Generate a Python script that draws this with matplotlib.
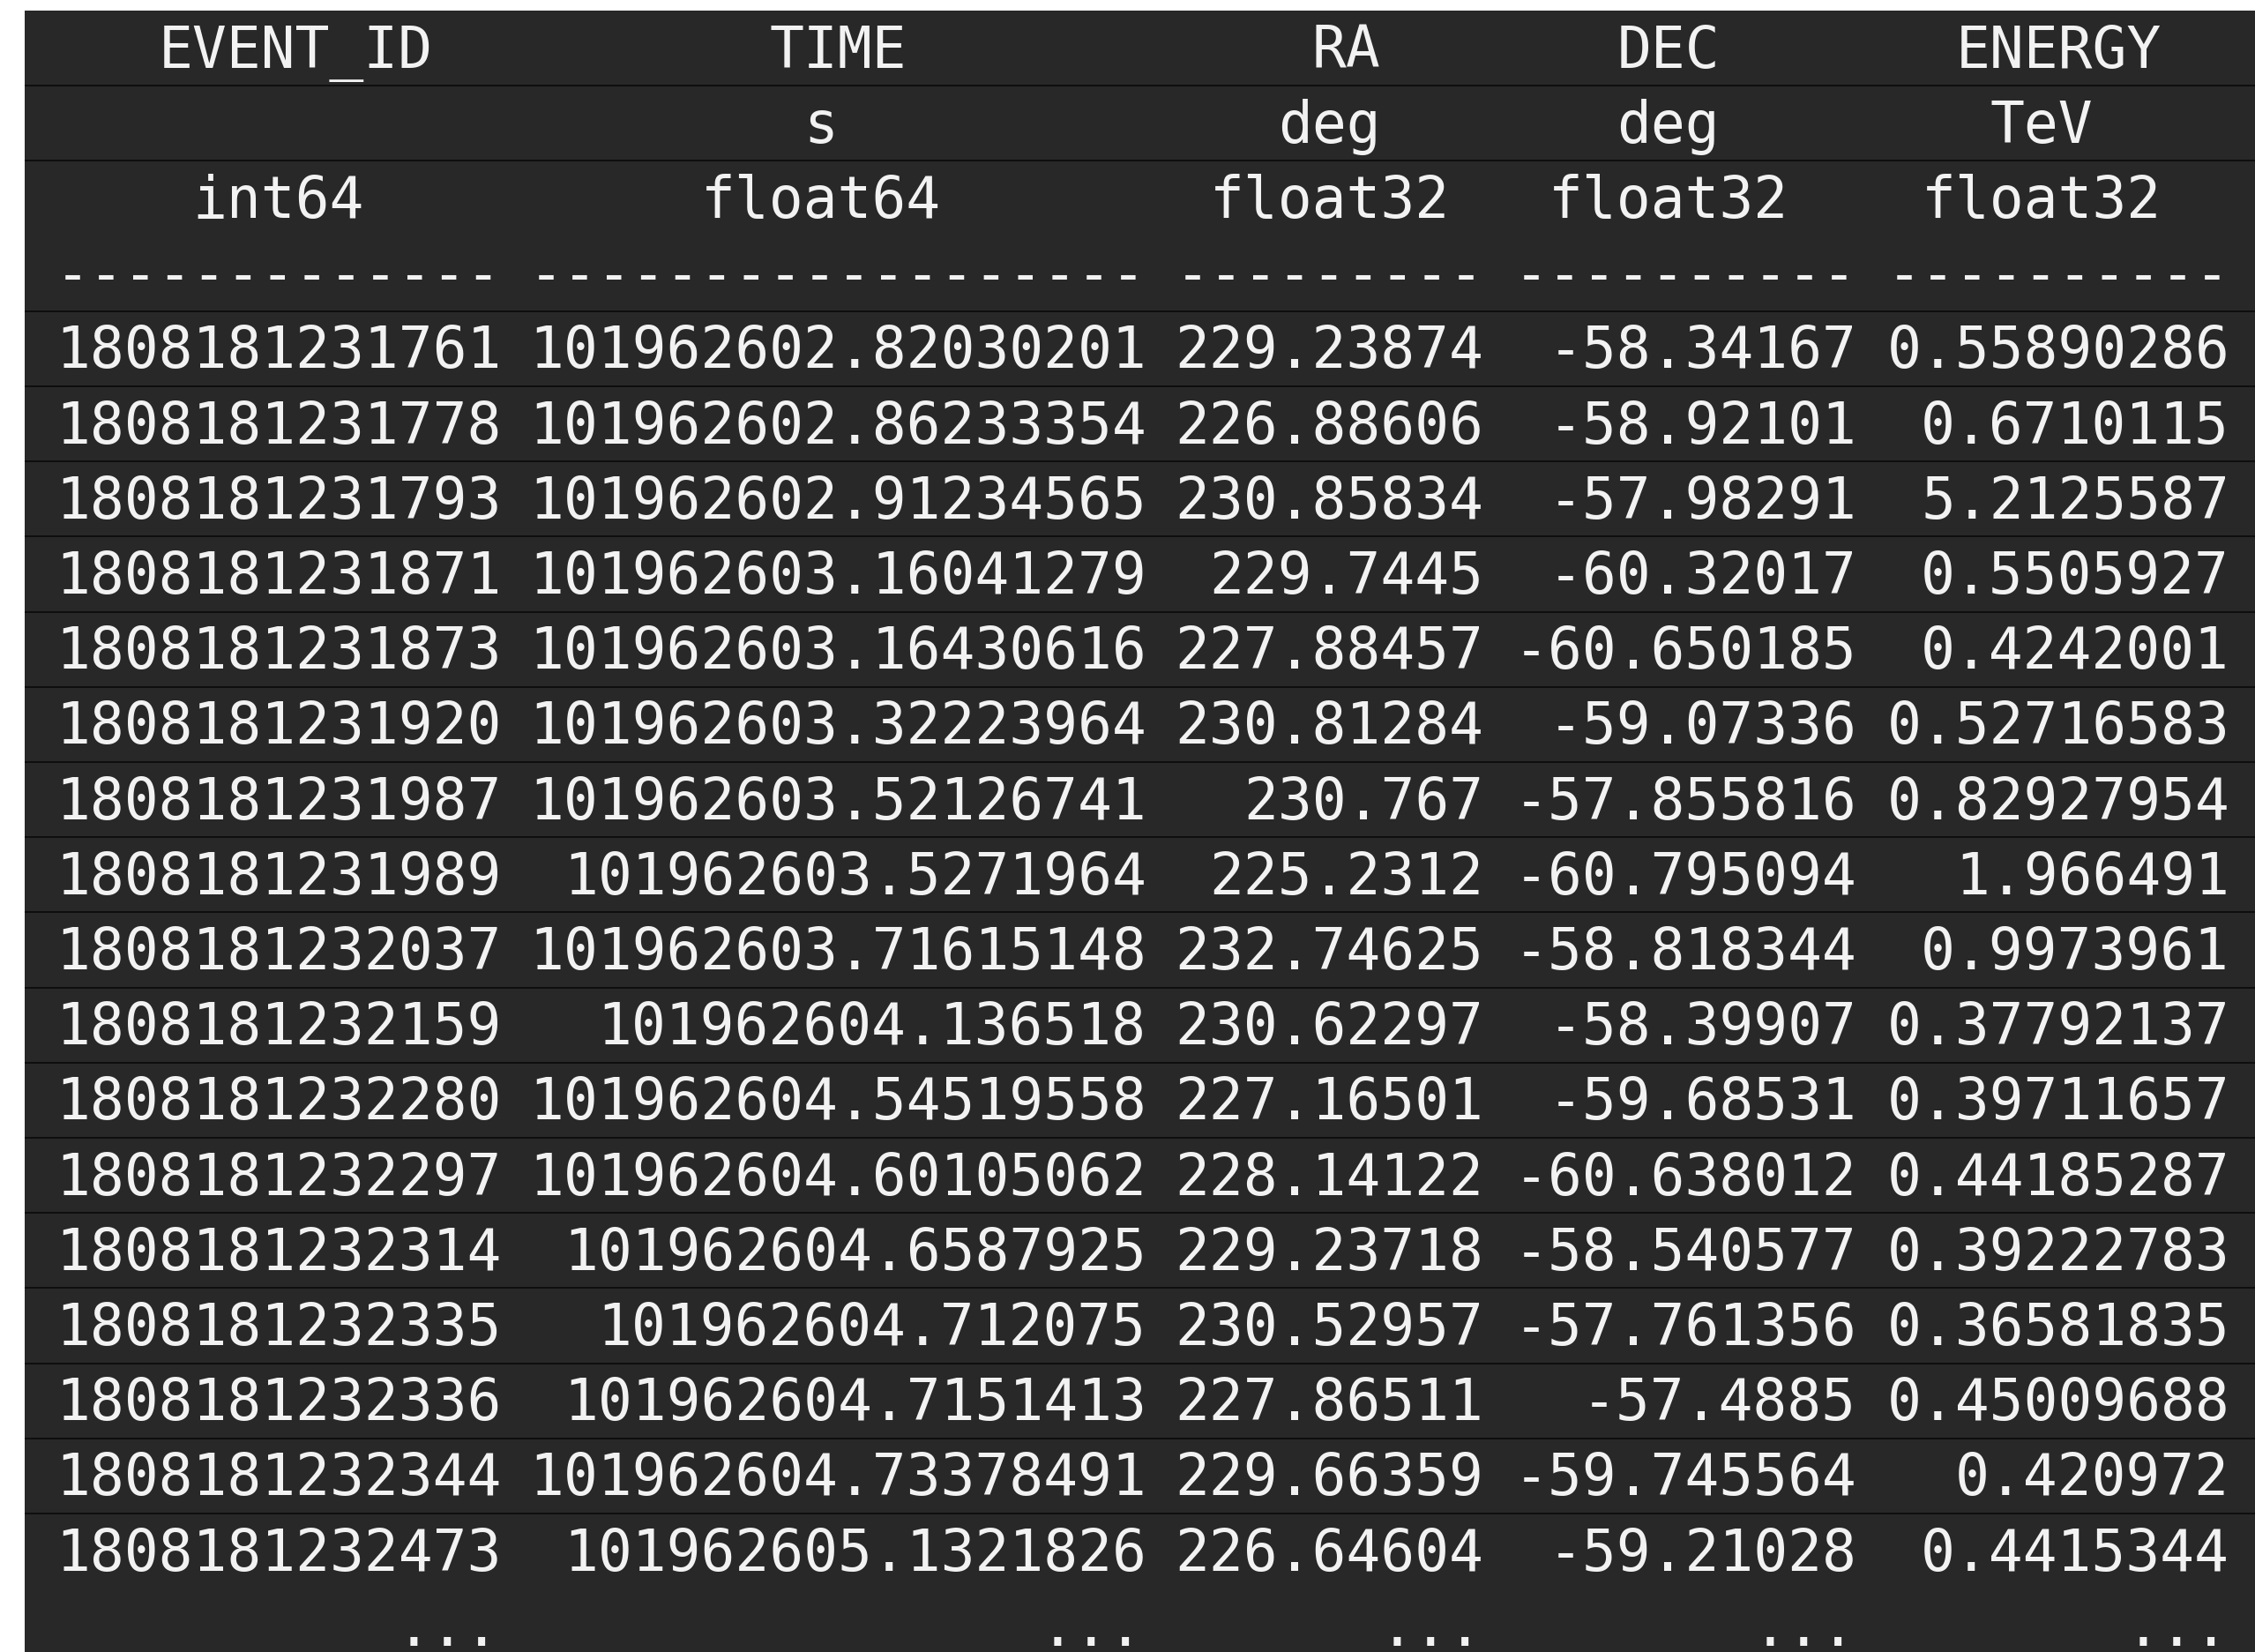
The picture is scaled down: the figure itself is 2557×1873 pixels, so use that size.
import matplotlib
matplotlib.use("Agg")
import matplotlib.pyplot as plt
from matplotlib.patches import Rectangle

# ---- table content ----
col_names = ["EVENT_ID", "TIME", "RA", "DEC", "ENERGY"]
col_units = ["", "s", "deg", "deg", "TeV"]
col_dtypes = ["int64", "float64", "float32", "float32", "float32"]

event_id = ["1808181231761", "1808181231778", "1808181231793", "1808181231871",
            "1808181231873", "1808181231920", "1808181231987", "1808181231989",
            "1808181232037", "1808181232159", "1808181232280", "1808181232297",
            "1808181232314", "1808181232335", "1808181232336", "1808181232344",
            "1808181232473"]
time_s = ["101962602.82030201", "101962602.86233354", "101962602.91234565",
          "101962603.16041279", "101962603.16430616", "101962603.32223964",
          "101962603.52126741", "101962603.5271964", "101962603.71615148",
          "101962604.136518", "101962604.54519558", "101962604.60105062",
          "101962604.6587925", "101962604.712075", "101962604.7151413",
          "101962604.73378491", "101962605.1321826"]
ra_deg = ["229.23874", "226.88606", "230.85834", "229.7445", "227.88457",
          "230.81284", "230.767", "225.2312", "232.74625", "230.62297",
          "227.16501", "228.14122", "229.23718", "230.52957", "227.86511",
          "229.66359", "226.64604"]
dec_deg = ["-58.34167", "-58.92101", "-57.98291", "-60.32017", "-60.650185",
           "-59.07336", "-57.855816", "-60.795094", "-58.818344", "-58.39907",
           "-59.68531", "-60.638012", "-58.540577", "-57.761356", "-57.4885",
           "-59.745564", "-59.21028"]
energy_tev = ["0.55890286", "0.6710115", "5.2125587", "0.5505927", "0.4242001",
              "0.52716583", "0.82927954", "1.966491", "0.9973961", "0.37792137",
              "0.39711657", "0.44185287", "0.39222783", "0.36581835", "0.45009688",
              "0.420972", "0.4415344"]
columns = [event_id, time_s, ra_deg, dec_deg, energy_tev]

# ---- layout (pixels) ----
W, H = 2557, 1874
DPI = 100
BG = "#282828"
FG = "#f2f2f2"
LINE = "#0c0c0c"
box_left, box_top = 28, 13
row_h = 85.2
x0 = 66.0        # left edge of character cell 0
adv = 38.44      # character advance
fs = 46.5        # font size in points
base_off = 21.5  # baseline distance above row bottom

fig = plt.figure(figsize=(W / DPI, H / DPI), dpi=DPI, facecolor="white")
ax = fig.add_axes([0, 0, 1, 1])
ax.set_xlim(0, W)
ax.set_ylim(H, 0)
ax.axis("off")

ax.add_patch(Rectangle((box_left, box_top), W - box_left, H - box_top,
                       facecolor=BG, edgecolor="none", zorder=0))

# column widths in characters and start indices
widths = []
for name, unit, dt, vals in zip(col_names, col_units, col_dtypes, columns):
    widths.append(max([len(name), len(unit), len(dt)] + [len(v) for v in vals]))
starts = []
pos = 0
for w in widths:
    starts.append(pos)
    pos += w + 1


def baseline(row):
    return box_top + row_h * (row + 1) - base_off


def put(row, col, s, just):
    w = widths[col]
    if just == "center":
        padded = s.center(w)
    else:
        padded = s.rjust(w)
    lead = len(padded) - len(padded.lstrip(" "))
    n = len(s)
    if n == 0:
        return
    xc = x0 + adv * (starts[col] + lead + n / 2.0)
    ax.text(xc, baseline(row), s, ha="center", va="baseline", color=FG,
            fontsize=fs, family="DejaVu Sans Mono", zorder=3)


n_data = len(event_id)
for c in range(len(col_names)):
    put(0, c, col_names[c], "center")
    put(1, c, col_units[c], "center")
    put(2, c, col_dtypes[c], "center")
    put(3, c, "-" * widths[c], "right")
    for r in range(n_data):
        put(4 + r, c, columns[c][r], "right")
    put(4 + n_data, c, "...", "right")

# horizontal separators
sep_rows = [1, 2] + list(range(4, 4 + n_data))
for k in sep_rows:
    y = box_top + row_h * k
    ax.plot([box_left, W], [y, y], color=LINE, lw=1.3, zorder=2,
            solid_capstyle="butt")

fig.savefig("out.png", dpi=DPI, facecolor="white")
